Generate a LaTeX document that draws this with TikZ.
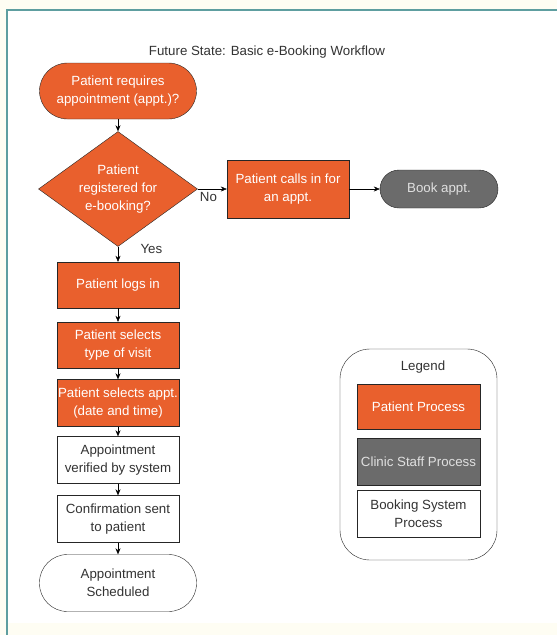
\documentclass[tikz,border=0pt]{standalone}
\usepackage{fontspec}
\setmainfont{Liberation Sans}
\usetikzlibrary{shapes.geometric,arrows.meta}

\definecolor{ptorange}{HTML}{E9602D}
\definecolor{staffgray}{HTML}{6B6B6B}
\definecolor{frameteal}{HTML}{5E9EA0}
\definecolor{papercream}{HTML}{FEFDF3}
\definecolor{inkgray}{HTML}{333333}

\tikzset{
  patient/.style={draw=black!85, fill=ptorange, text=white, thin, minimum width=122pt, minimum height=46pt, align=center, inner sep=0pt},
  system/.style={draw=black!85, fill=white, text=inkgray, thin, minimum width=122pt, minimum height=47pt, align=center, inner sep=0pt},
  staff/.style={draw=black!85, fill=staffgray, text=black!12, thin, minimum width=122pt, minimum height=47pt, align=center, inner sep=0pt},
  terminal/.style={draw=black!85, thin, align=center, rounded corners=28pt, minimum width=157pt, minimum height=56pt},
}

\begin{document}
\begin{tikzpicture}[x=1pt, y=-1pt, font=\fontsize{13.3}{18}\selectfont, >={Stealth[length=6pt,width=5pt]}]
\useasboundingbox (0,0) rectangle (557,635);
\fill[papercream] (0,0) rectangle (557,635); % paper
\fill[white] (7,10) rectangle (557,623); % page
\draw[frameteal, line width=1.2pt] (7,635) -- (7,10) -- (557,10); % frame

\node[text=inkgray] (title) at (267,52) {Future State: Basic e-Booking Workflow};

\node[terminal, fill=ptorange, text=white] (start) at (118,91) {Patient requires\\appointment (appt.)?};
\node[diamond, draw=black!85, thin, fill=ptorange, text=white, align=center, aspect=1.38, inner sep=0pt, minimum width=159pt, minimum height=115pt] (reg) at (118,189) {Patient\\registered for\\e-booking?};
\node[patient, minimum height=58pt] (calls) at (288,189) {Patient calls in for\\an appt.};
\node[terminal, fill=staffgray, text=black!12, rounded corners=19pt, minimum width=118pt, minimum height=38pt] (book) at (439,189) {Book appt.};

\node[patient] (login) at (118,285) {Patient logs in};
\node[patient] (visit) at (118,345) {Patient selects\\type of visit};
\node[patient, minimum height=47pt] (date) at (118,403) {Patient selects appt.\\(date and time)};
\node[system] (verify) at (118,460) {Appointment\\verified by system};
\node[system] (confirm) at (118,519) {Confirmation sent\\to patient};
\node[terminal, fill=white, text=inkgray, minimum height=57pt] (done) at (118,583) {Appointment\\Scheduled};

\draw [->] (start) -- (reg);
\draw [->] (reg) -- node[pos=0.37, below, text=inkgray] {No} (calls);
\draw [->] (calls) -- (book);
\draw [->] (reg) -- node[pos=0.13, anchor=west, xshift=19pt, text=inkgray] {Yes} (login);
\draw [->] (login) -- (visit);
\draw [->] (visit) -- (date);
\draw [->] (date) -- (verify);
\draw [->] (verify) -- (confirm);
\draw [->] (confirm) -- (done);

% legend
\node[draw=black!85, thin, rounded corners=30pt, minimum width=157pt, minimum height=211pt] (legend) at (418.5,454.5) {};
\node[text=inkgray] (legendtitle) at (423,367) {Legend};
\node[patient, minimum width=123pt, minimum height=45pt] (keypatient) at (418.5,406.5) {Patient Process};
\node[staff, minimum width=123pt] (keystaff) at (418.5,461.5) {Clinic Staff Process};
\node[system, minimum width=123pt] (keysystem) at (418.5,513.5) {Booking System\\Process};

\end{tikzpicture}
\end{document}
